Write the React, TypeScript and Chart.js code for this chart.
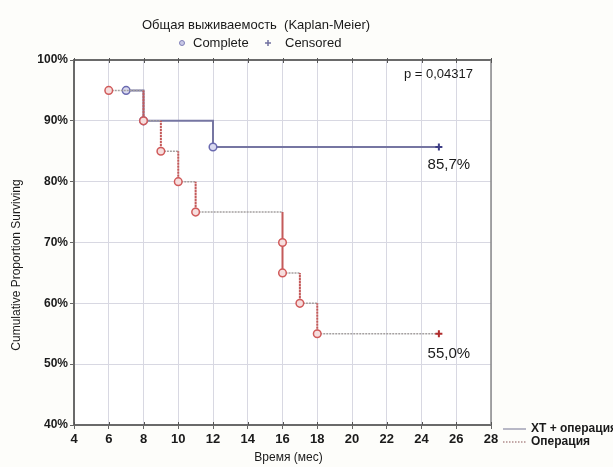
import React, { useEffect, useRef } from 'react';
import { Chart, registerables } from 'chart.js';

Chart.register(...registerables);

// ---- data ----
const chartTitle = 'Общая выживаемость  (Kaplan-Meier)';
const markerLegend = ['Complete', 'Censored'];
const seriesNames = ['ХТ + операция', 'Операция'];
const xAxisTitle = 'Время (мес)';
const yAxisTitle = 'Cumulative Proportion Surviving';
const pValueLabel = 'p = 0,04317';

const xMin = 4;
const xMax = 28;
const xStep = 2;
const yMin = 40;
const yMax = 100;
const yStep = 10;

// ХТ + операция (solid)
const ctTimes = [7, 8, 12];
const ctSurvival = [95, 90, 85.7];
const ctCensoredTime = 25;
const ctFinalLabel = '85,7%';

// Операция (dotted)
const opTimes = [6, 8, 9, 10, 11, 16, 16, 17, 18];
const opSurvival = [95, 90, 85, 80, 75, 70, 65, 60, 55];
const opCensoredTime = 25;
const opFinalLabel = '55,0%';

const FONT = '"Liberation Sans", Arial, sans-serif';

type Pt = { x: number; y: number; kind: 'corner' | 'event' | 'censor' };

function stepPoints(times: number[], surv: number[], censorTime: number): Pt[] {
  const pts: Pt[] = [];
  for (let i = 0; i < times.length; i++) {
    if (i > 0 && times[i] !== times[i - 1]) pts.push({ x: times[i], y: surv[i - 1], kind: 'corner' });
    pts.push({ x: times[i], y: surv[i], kind: 'event' });
  }
  pts.push({ x: censorTime, y: surv[surv.length - 1], kind: 'censor' });
  return pts;
}

const annotationPlugin = {
  id: 'kmAnnotations',
  beforeDraw(chart: any) {
    const { ctx } = chart;
    ctx.save();
    ctx.fillStyle = '#fdfdfa';
    ctx.fillRect(0, 0, chart.width, chart.height);
    const a = chart.chartArea;
    ctx.fillStyle = '#ffffff';
    ctx.fillRect(a.left, a.top, a.right - a.left, a.bottom - a.top);
    ctx.restore();
  },
  afterDraw(chart: any) {
    const { ctx } = chart;
    const a = chart.chartArea;
    const xs = chart.scales.x;
    const ys = chart.scales.y;
    ctx.save();
    // top & right borders
    ctx.strokeStyle = '#6a6a6a';
    ctx.lineWidth = 2;
    ctx.beginPath();
    ctx.moveTo(a.left, a.top);
    ctx.lineTo(a.right, a.top);
    ctx.stroke();
    ctx.strokeStyle = '#8a8a8a';
    ctx.lineWidth = 1.5;
    ctx.beginPath();
    ctx.moveTo(a.right, a.top);
    ctx.lineTo(a.right, a.bottom);
    ctx.stroke();
    // small tick marks on top/bottom border
    ctx.strokeStyle = '#555';
    ctx.lineWidth = 1;
    for (let v = xMin; v <= xMax; v += xStep) {
      const px = Math.round(xs.getPixelForValue(v)) + 0.5;
      ctx.beginPath();
      ctx.moveTo(px, a.top - 2);
      ctx.lineTo(px, a.top + 3);
      ctx.stroke();
      ctx.beginPath();
      ctx.moveTo(px, a.bottom - 3);
      ctx.lineTo(px, a.bottom);
      ctx.stroke();
    }

    ctx.fillStyle = '#1a1a1a';
    ctx.textBaseline = 'middle';

    // title
    ctx.font = `13px ${FONT}`;
    ctx.textAlign = 'center';
    ctx.fillText(chartTitle, 256, 25);

    // marker legend
    ctx.textAlign = 'left';
    ctx.font = `13px ${FONT}`;
    ctx.beginPath();
    ctx.arc(182, 43, 2.5, 0, Math.PI * 2);
    ctx.fillStyle = '#c8c8e6';
    ctx.fill();
    ctx.strokeStyle = '#8080b8';
    ctx.lineWidth = 1;
    ctx.stroke();
    ctx.fillStyle = '#1a1a1a';
    ctx.fillText(markerLegend[0], 193, 43);
    ctx.strokeStyle = '#7070a0';
    ctx.lineWidth = 1.5;
    ctx.beginPath();
    ctx.moveTo(265, 43);
    ctx.lineTo(271, 43);
    ctx.moveTo(268, 40);
    ctx.lineTo(268, 46);
    ctx.stroke();
    ctx.fillText(markerLegend[1], 285, 43);

    // p value
    ctx.font = `13px ${FONT}`;
    ctx.textAlign = 'right';
    ctx.fillText(pValueLabel, a.right - 18, a.top + 14);

    // final survival labels
    ctx.font = `15px ${FONT}`;
    ctx.textAlign = 'center';
    const cx = xs.getPixelForValue(ctCensoredTime);
    ctx.fillText(ctFinalLabel, cx + 10, ys.getPixelForValue(ctSurvival[ctSurvival.length - 1]) + 18);
    const ox = xs.getPixelForValue(opCensoredTime);
    ctx.fillText(opFinalLabel, ox + 10, ys.getPixelForValue(opSurvival[opSurvival.length - 1]) + 20);

    // axis titles
    ctx.font = `12px ${FONT}`;
    ctx.textAlign = 'center';
    ctx.fillText(xAxisTitle, (a.left + a.right) / 2 + 6, 458);
    ctx.save();
    ctx.translate(17, 265);
    ctx.rotate(-Math.PI / 2);
    ctx.font = `12px ${FONT}`;
    ctx.fillText(yAxisTitle, 0, 0);
    ctx.restore();

    // series legend (right bottom)
    ctx.textAlign = 'left';
    ctx.font = `bold 12px ${FONT}`;
    ctx.strokeStyle = '#a0a0b4';
    ctx.lineWidth = 1.5;
    ctx.setLineDash([]);
    ctx.beginPath();
    ctx.moveTo(503, 429);
    ctx.lineTo(526, 429);
    ctx.stroke();
    ctx.fillText(seriesNames[0], 531, 429);
    ctx.strokeStyle = '#b08c8c';
    ctx.setLineDash([1.5, 1.5]);
    ctx.beginPath();
    ctx.moveTo(503, 442);
    ctx.lineTo(526, 442);
    ctx.stroke();
    ctx.setLineDash([]);
    ctx.fillText(seriesNames[1], 531, 442);
    ctx.restore();
  },
};

export default function App() {
  const ref = useRef<HTMLCanvasElement | null>(null);
  useEffect(() => {
    if (!ref.current) return;
    const ctPts = stepPoints(ctTimes, ctSurvival, ctCensoredTime);
    const opPts = stepPoints(opTimes, opSurvival, opCensoredTime);
    const radius = (c: any) => (c.raw && c.raw.kind === 'event' ? 3.8 : c.raw && c.raw.kind === 'censor' ? 3.5 : 0);
    const style = (c: any) => (c.raw && c.raw.kind === 'censor' ? 'cross' : 'circle');
    const chart = new Chart(ref.current, {
      type: 'line',
      data: {
        datasets: [
          {
            label: seriesNames[0],
            data: ctPts as any,
            borderColor: '#7676a2',
            borderWidth: 2,
            pointRadius: radius,
            pointStyle: style as any,
            pointBackgroundColor: (c: any) => (c.raw && c.raw.kind === 'censor' ? '#4a4a8a' : '#dadaf0'),
            pointBorderColor: (c: any) => (c.raw && c.raw.kind === 'censor' ? '#3e3e86' : '#6a6ab0'),
            pointBorderWidth: (c: any) => (c.raw && c.raw.kind === 'censor' ? 2 : 1.5),
            fill: false,
            order: 2,
          },
          {
            label: seriesNames[1],
            data: opPts as any,
            borderColor: '#a0a0a0',
            borderWidth: 1.5,
            segment: {
              borderColor: (c: any) => (c.p0.parsed.x === c.p1.parsed.x ? '#c45a5a' : '#a4a0a0'),
              borderDash: (c: any) => (c.p0.parsed.x === c.p1.parsed.x ? [1.5, 1.5] : [2, 1]),
              borderWidth: (c: any) => (c.p0.parsed.x === c.p1.parsed.x ? 2 : 1.5),
            } as any,
            pointRadius: radius,
            pointStyle: style as any,
            pointBackgroundColor: (c: any) => (c.raw && c.raw.kind === 'censor' ? '#b03030' : '#f6dede'),
            pointBorderColor: (c: any) => (c.raw && c.raw.kind === 'censor' ? '#b02c2c' : '#d05a5a'),
            pointBorderWidth: (c: any) => (c.raw && c.raw.kind === 'censor' ? 2 : 1.5),
            fill: false,
            order: 1,
          },
        ],
      },
      options: {
        responsive: false,
        animation: false,
        events: [],
        layout: { padding: { left: 0, top: 60, right: 122, bottom: 0 } },
        plugins: {
          legend: { display: false },
          title: { display: false },
          tooltip: { enabled: false },
        },
        scales: {
          x: {
            type: 'linear',
            min: xMin,
            max: xMax,
            afterFit: (s: any) => {
              s.height = 42;
            },
            ticks: {
              stepSize: xStep,
              color: '#1a1a1a',
              font: { family: FONT, size: 13, weight: 'bold' },
              padding: 3,
              maxRotation: 0,
            },
            grid: { color: '#d8d8e2', lineWidth: 1, tickLength: 4, tickColor: '#666' },
            border: { display: true, color: '#6a6a6a', width: 2 },
          },
          y: {
            type: 'linear',
            min: yMin,
            max: yMax,
            afterFit: (s: any) => {
              s.width = 74;
            },
            ticks: {
              stepSize: yStep,
              color: '#1a1a1a',
              font: { family: FONT, size: 12, weight: 'bold' },
              padding: 2,
              callback: (v: any) => `${v}%`,
            },
            grid: { color: '#d8d8e2', lineWidth: 1, tickLength: 4, tickColor: '#666' },
            border: { display: true, color: '#6a6a6a', width: 2 },
          },
        },
      },
      plugins: [annotationPlugin],
    });
    return () => chart.destroy();
  }, []);
  return (
    <div style={{ position: 'fixed', left: 0, top: 0, width: 613, height: 467 }}>
      <canvas ref={ref} width={613} height={467} style={{ width: 613, height: 467 }} />
    </div>
  );
}
